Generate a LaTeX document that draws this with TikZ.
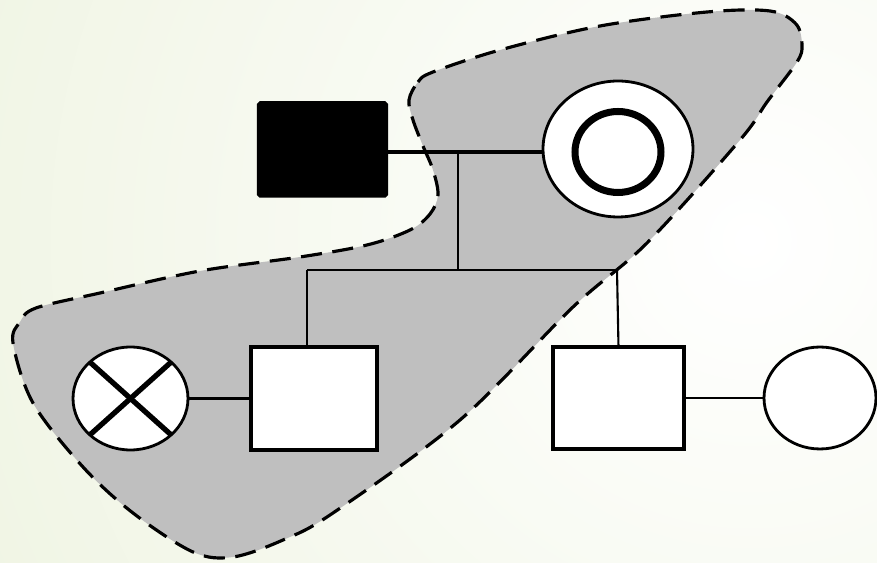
\documentclass[tikz,border=0pt]{standalone}
\usetikzlibrary{shapes.geometric,calc}
\definecolor{bgc}{RGB}{230,238,210}
\definecolor{blobgray}{RGB}{191,191,191}
\tikzset{
  malebox/.style={rectangle, draw=black, line width=2pt, fill=white, inner sep=0pt, outer sep=0pt},
  femalering/.style={ellipse, draw=black, line width=1.6pt, fill=white, inner sep=0pt, outer sep=0pt},
  thinline/.style={line width=1.2pt},
  coupleline/.style={line width=1.8pt},
  blobline/.style={draw=black, fill=blobgray, line width=1.8pt, dash pattern=on 12pt off 6pt},
  crossline/.style={line width=3pt}
}
\begin{document}
\begin{tikzpicture}[x=0.02cm,y=-0.02cm]
\useasboundingbox (0,0) rectangle (877,563);
\begin{scope}
  \clip (0,0) rectangle (877,563);
  \shade[inner color=white, outer color=bgc] (750,240) circle (28cm);
\end{scope}
% shaded region
\path[blobline] plot[smooth cycle, tension=0.55] coordinates {
 (409,100) (418,82) (433,72) (500,50) (600,26) (707,12) (770,11) (796,24) (802,45) (797,62)
 (767,102) (740,140) (647,243) (573,307) (460,420) (333,513) (283,540) (233,557) (193,552)
 (133,513) (83,467) (33,403) (13,343) (20,322) (36,308) (100,293) (200,271) (300,257)
 (367,245) (410,230) (430,214) (438,195) (433,170) (423,146) (413,120)};
% persons
\node[malebox, fill=black, rounded corners=1pt, minimum width=2.56cm, minimum height=1.86cm] (father) at (322.5,149.5) {};
\node[femalering, minimum width=3.0cm, minimum height=2.72cm] (mother) at (618,149) {};
\node[ellipse, draw=black, line width=4pt, inner sep=0pt, minimum width=1.72cm, minimum height=1.62cm] (motherin) at (618,152) {};
\node[malebox, minimum width=2.52cm, minimum height=2.06cm] (son1) at (314,398.5) {};
\node[femalering, minimum width=2.3cm, minimum height=2.06cm] (wife1) at (130.5,398.5) {};
\node[malebox, minimum width=2.62cm, minimum height=2.04cm] (son2) at (618.5,398) {};
\node[femalering, minimum width=2.24cm, minimum height=2.04cm] (wife2) at (820,398) {};
% cross
\draw[crossline] (wife1.north west) -- (wife1.south east);
\draw[crossline] (wife1.north east) -- (wife1.south west);
% connectors
\coordinate (drop) at (458,152);
\coordinate (sib) at (458,270);
\coordinate (sibl) at (307,270);
\coordinate (sibr) at (617,270);
\draw[coupleline] (father.east |- drop) -- (mother.west |- drop);
\draw[thinline] (drop) -- (sib);
\draw[thinline] (sibl) -- (sibr);
\draw[thinline] (sibl) -- (sibl |- son1.north);
\draw[thinline] (sibr) -- (son2.north);
\draw[thinline] (wife1.east) -- (son1.west);
\draw[thinline] (son2.east) -- (wife2.west);
\end{tikzpicture}
\end{document}
